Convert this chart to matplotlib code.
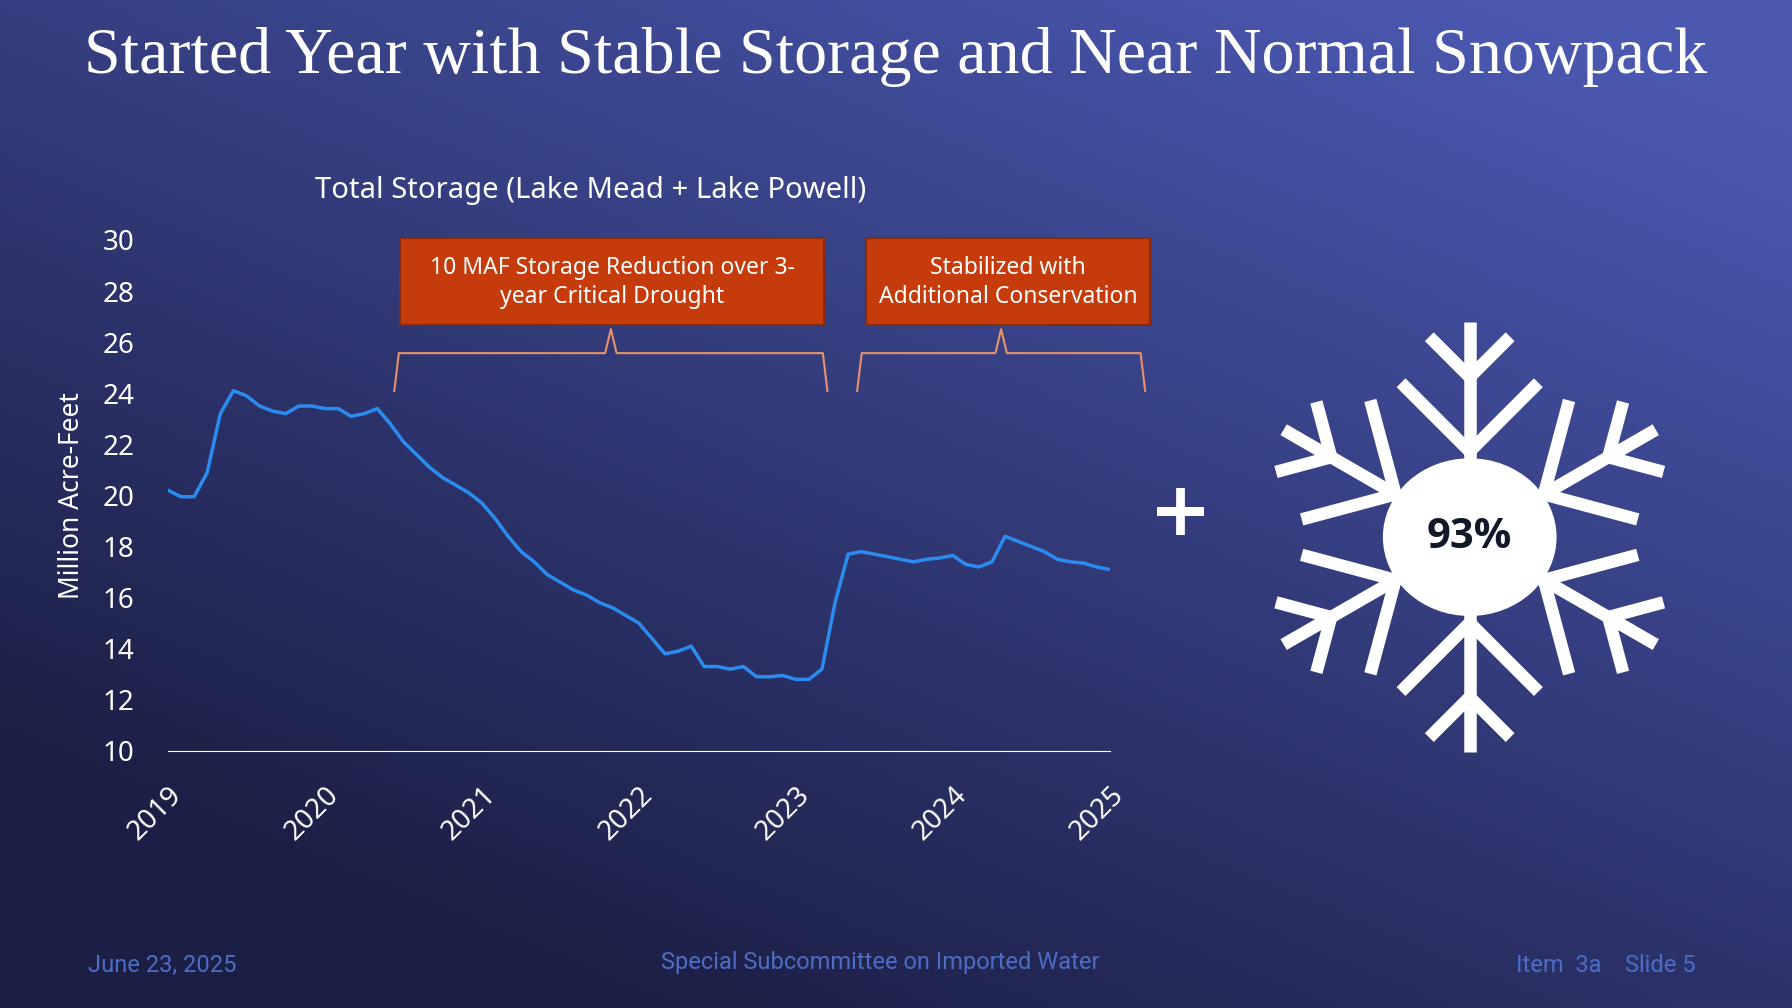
import numpy as np
import matplotlib
matplotlib.use("Agg")
import matplotlib.pyplot as plt
from matplotlib.patches import FancyBboxPatch, Ellipse

# monthly storage, Jan 2019 .. Jan 2025 (MAF)
storage = [20.2, 19.95, 19.95, 20.9, 23.2, 24.1, 23.9, 23.5, 23.3, 23.2,
           23.5, 23.5, 23.4, 23.4, 23.1, 23.2, 23.4, 22.8, 22.1, 21.6,
           21.1, 20.7, 20.4, 20.1, 19.7, 19.1, 18.4, 17.8, 17.4, 16.9,
           16.6, 16.3, 16.1, 15.8, 15.6, 15.3, 15.0, 14.4, 13.8, 13.9,
           14.1, 13.3, 13.3, 13.2, 13.3, 12.9, 12.9, 12.95, 12.8, 12.8,
           13.2, 15.8, 17.7, 17.8, 17.7, 17.6, 17.5, 17.4, 17.5, 17.55,
           17.65, 17.3, 17.2, 17.4, 18.4, 18.2, 18.0, 17.8, 17.5, 17.4,
           17.35, 17.2, 17.1]
years = [2019, 2020, 2021, 2022, 2023, 2024, 2025]
yticks = list(range(10, 31, 2))
snow_pct = "93%"

W, H = 1568, 882
def fx(px): return px / W
def fy(py): return 1 - py / H

fig = plt.figure(figsize=(17.92, 10.08), dpi=100)

# gradient background
bg = fig.add_axes([0, 0, 1, 1])
gx, gy = np.meshgrid(np.linspace(0, 1, 200), np.linspace(0, 1, 200))
t = np.clip(0.55 * gx + 0.75 * (1 - gy) - 0.2, 0, 1)
c0 = np.array([0x1c, 0x1f, 0x45]) / 255
c1 = np.array([0x4a, 0x58, 0xb0]) / 255
img = c0[None, None, :] * (1 - t[..., None]) + c1[None, None, :] * t[..., None]
bg.imshow(img, aspect="auto", extent=[0, 1, 0, 1], origin="upper")
bg.set_xlim(0, 1); bg.set_ylim(0, 1)
bg.axis("off")

fig.text(0.5, fy(50), "Started Year with Stable Storage and Near Normal Snowpack",
         ha="center", va="center", color="white", fontsize=47.5,
         family="Liberation Serif")

ax = fig.add_axes([fx(147), fy(657), fx(971) - fx(147), fy(210) - fy(657)])
ax.patch.set_alpha(0)
x = 2019 + np.arange(len(storage)) / 12
ax.plot(x, storage, color="#2b8cf0", lw=2.5)
ax.set_xlim(2019, 2025)
ax.set_ylim(10, 30)
ax.set_yticks(yticks)
ax.set_xticks(years)
ax.set_xticklabels([str(y) for y in years], rotation=45, ha="right", va="top",
                   rotation_mode="anchor")
for s in ["top", "right", "left"]:
    ax.spines[s].set_visible(False)
ax.spines["bottom"].set_color("white")
ax.tick_params(colors="white", labelsize=20, length=0)
ax.tick_params(axis="y", pad=24)
ax.tick_params(axis="x", pad=22)
for lab in ax.get_xticklabels() + ax.get_yticklabels():
    lab.set_family("Noto Sans")
    lab.set_ha("right")
ax.set_ylabel("Million Acre-Feet", color="white", fontsize=19, family="Noto Sans", labelpad=12)

fig.text(fx(517), fy(167), "Total Storage (Lake Mead + Lake Powell)", ha="center",
         va="center", color="white", fontsize=21, family="Noto Sans")

# callout boxes and braces
for (x0, x1, bx0, bx1, txt) in [(345, 724, 350, 721, "10 MAF Storage Reduction over 3-\nyear Critical Drought"),
                                (750, 1002, 758, 1006, "Stabilized with\nAdditional Conservation")]:
    box = FancyBboxPatch((fx(bx0), fy(284)), fx(bx1) - fx(bx0), fy(208) - fy(284),
                         boxstyle="square,pad=0", transform=fig.transFigure,
                         facecolor="#c53b0c", edgecolor="#8a2a08", lw=1.5)
    fig.patches.append(box)
    fig.text((fx(bx0) + fx(bx1)) / 2, fy(247), txt, ha="center", va="center",
             color="white", fontsize=16.5, family="Noto Sans", linespacing=1.3)
    mid = (x0 + x1) / 2
    bx = [x0, x0 + 4, mid - 5, mid, mid + 5, x1 - 4, x1]
    by = [342, 309, 309, 288, 309, 309, 342]
    fig.lines.append(plt.Line2D([fx(v) for v in bx], [fy(v) for v in by],
                                transform=fig.transFigure, color="#e8926a", lw=1.5))

fig.text(fx(1033), fy(450), "+", ha="center", va="center", color="white",
         fontsize=54, fontweight="bold", family="DejaVu Sans")

# snowflake
sx = fig.add_axes([fx(1086), fy(670), fx(1486) - fx(1086), fy(270) - fy(670)])
sx.set_xlim(-200, 200); sx.set_ylim(-200, 200); sx.axis("off")
sx.patch.set_alpha(0)
lw = 9
for k in range(6):
    a = np.pi / 2 + k * np.pi / 3
    u = np.array([np.cos(a), np.sin(a)])
    sx.plot([0, 188 * u[0]], [0, 188 * u[1]], color="white", lw=lw, solid_capstyle="butt")
    for d, L in [(75, 85), (140, 50)]:
        p = d * u
        for s in (1, -1):
            b = a + s * np.pi / 4
            q = p + L * np.array([np.cos(b), np.sin(b)])
            sx.plot([p[0], q[0]], [p[1], q[1]], color="white", lw=lw, solid_capstyle="butt")
sx.add_patch(Ellipse((0, 0), 152, 138, facecolor="white", edgecolor="none", zorder=5))
sx.text(0, 0, snow_pct, ha="center", va="center", fontsize=30, fontweight="bold",
        color="#111827", family="Open Sans", zorder=6)

foot = "#4d6cc4"
fig.text(fx(77), fy(845), "June 23, 2025", ha="left", va="center", color=foot, fontsize=17, family="Roboto")
fig.text(fx(770), fy(842), "Special Subcommittee on Imported Water", ha="center", va="center",
         color=foot, fontsize=17, family="Roboto")
fig.text(fx(1484), fy(845), "Item  3a    Slide 5", ha="right", va="center", color=foot, fontsize=17, family="Roboto")

fig.savefig("out.png", dpi=100)
